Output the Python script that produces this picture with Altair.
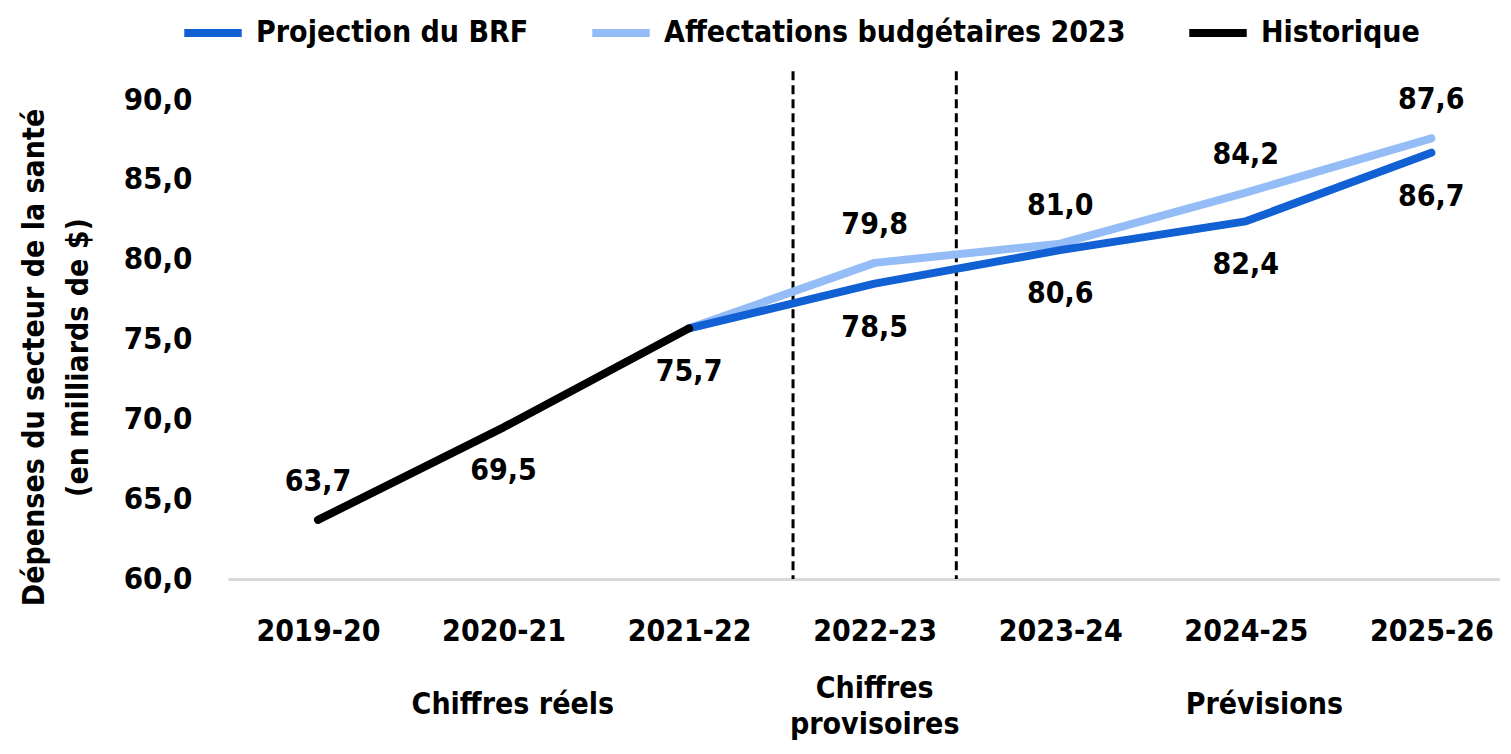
import altair as alt
import pandas as pd

FONT = "'Liberation Sans Narrow', 'Arial Narrow', 'DejaVu Sans Condensed', sans-serif"

periods = ["2019-20", "2020-21", "2021-22", "2022-23", "2023-24", "2024-25", "2025-26"]

hist_periods = ["2019-20", "2020-21", "2021-22"]
hist_values = [63.7, 69.5, 75.7]
hist_label_side = ["above", "below", "below"]

brf_periods = ["2021-22", "2022-23", "2023-24", "2024-25", "2025-26"]
brf_values = [75.7, 78.5, 80.6, 82.4, 86.7]
brf_label_side = ["none", "below", "below", "below", "below"]

aff_periods = ["2021-22", "2022-23", "2023-24", "2024-25", "2025-26"]
aff_values = [75.7, 79.8, 81.0, 84.2, 87.6]
aff_label_side = ["none", "above", "above", "above", "above"]

series_names = ["Projection du BRF", "Affectations budgétaires 2023", "Historique"]
series_colors = ["#1160d4", "#94bcf6", "#000000"]

group_names = ["Chiffres réels", "Chiffres\nprovisoires", "Prévisions"]
group_pos = [1.05, 3.0, 5.1]
boundary_pos = [2.56, 3.44]
boundary_top = 91.8
boundary_bottom = 60.0

y_ticks = [60, 65, 70, 75, 80, 85, 90]

rows = []
for name, ps, vs, sides in [
    ("Affectations budgétaires 2023", aff_periods, aff_values, aff_label_side),
    ("Projection du BRF", brf_periods, brf_values, brf_label_side),
    ("Historique", hist_periods, hist_values, hist_label_side),
]:
    for p, v, s in zip(ps, vs, sides):
        rows.append({"series": name, "period": p, "idx": periods.index(p), "value": v, "side": s})
df = pd.DataFrame(rows)
df["label"] = df["value"].map(lambda v: f"{v:.1f}".replace(".", ","))

groups_df = pd.DataFrame({"name": group_names, "pos": group_pos})
groups_df["multi"] = groups_df["name"].str.contains("\n")
bounds_df = pd.DataFrame({"pos": boundary_pos, "top": [boundary_top] * 2, "bottom": [boundary_bottom] * 2})

label_expr = "[" + ",".join(f"'{p}'" for p in periods) + "][datum.value]"

x_scale = alt.Scale(domain=[-0.485, 6.37], nice=False, zero=False)
y_scale = alt.Scale(domain=[60, 90], nice=False, zero=False)

x_enc = alt.X(
    "idx:Q",
    scale=x_scale,
    axis=alt.Axis(
        values=list(range(len(periods))),
        labelExpr=label_expr,
        title=None,
        grid=False,
        ticks=False,
        domainColor="#d9d9d9",
        domainWidth=3,
        labelFont=FONT,
        labelFontSize=30,
        labelFontWeight="bold",
        labelColor="#000000",
        labelPadding=37,
        labelFlush=False,
        labelOverlap=False,
    ),
)
y_enc = alt.Y(
    "value:Q",
    scale=y_scale,
    axis=alt.Axis(
        values=y_ticks,
        labelExpr="replace(format(datum.value, '.1f'), '.', ',')",
        title=["Dépenses du secteur de la santé", "(en milliards de $)"],
        titleFont=FONT,
        titleFontSize=30,
        titleFontWeight="bold",
        titleColor="#000000",
        titleLineHeight=44,
        titlePadding=30,
        titleY=257,
        grid=False,
        ticks=False,
        domain=False,
        labelFont=FONT,
        labelFontSize=31,
        labelFontWeight="bold",
        labelColor="#000000",
        labelPadding=36,
    ),
)

color_enc = alt.Color(
    "series:N",
    scale=alt.Scale(domain=series_names, range=series_colors),
    legend=alt.Legend(
        title=None,
        orient="none",
        direction="horizontal",
        legendX=-48,
        legendY=-100,
        symbolType="stroke",
        symbolStrokeWidth=8,
        symbolSize=3300,
        labelFont=FONT,
        labelFontSize=30,
        labelFontWeight="bold",
        labelColor="#000000",
        labelOffset=10,
        columnPadding=47,
        labelLimit=600,
    ),
)

base = alt.Chart(df)

lines = []
for name in ["Affectations budgétaires 2023", "Projection du BRF", "Historique"]:
    lines.append(
        base.transform_filter(alt.datum.series == name)
        .mark_line(strokeWidth=8, strokeCap="round", strokeJoin="round")
        .encode(x=x_enc, y=y_enc, color=color_enc)
    )

text_style = dict(font=FONT, fontSize=30, fontWeight="bold", color="#000000", baseline="middle", align="center")
labels_above = base.transform_filter(alt.datum.side == "above").mark_text(dy=-38, **text_style).encode(
    x="idx:Q", y="value:Q", text="label:N"
)
labels_below = base.transform_filter(alt.datum.side == "below").mark_text(dy=44, **text_style).encode(
    x="idx:Q", y="value:Q", text="label:N"
)

rules = alt.Chart(bounds_df).mark_rule(color="#000000", strokeWidth=3, strokeDash=[9, 5], clip=False).encode(
    x="pos:Q", y="top:Q", y2="bottom:Q"
)

groups_single = (
    alt.Chart(groups_df)
    .transform_filter("!datum.multi")
    .mark_text(**text_style)
    .encode(x="pos:Q", y=alt.value(605), text="name:N")
)
groups_multi = (
    alt.Chart(groups_df)
    .transform_filter("datum.multi")
    .mark_text(lineBreak="\n", lineHeight=36, **text_style)
    .encode(x="pos:Q", y=alt.value(589), text="name:N")
)

chart = (
    alt.layer(rules, *lines, labels_above, labels_below, groups_single, groups_multi)
    .properties(
        width=1272,
        height=479,
        background="#ffffff",
        autosize=alt.AutoSizeParams(type="none"),
        padding={"left": 220, "top": 92, "right": 0, "bottom": 165},
    )
    .configure_view(strokeWidth=0, stroke="transparent")
)

chart.save("out.html", embed_options={"renderer": "svg", "actions": False})
